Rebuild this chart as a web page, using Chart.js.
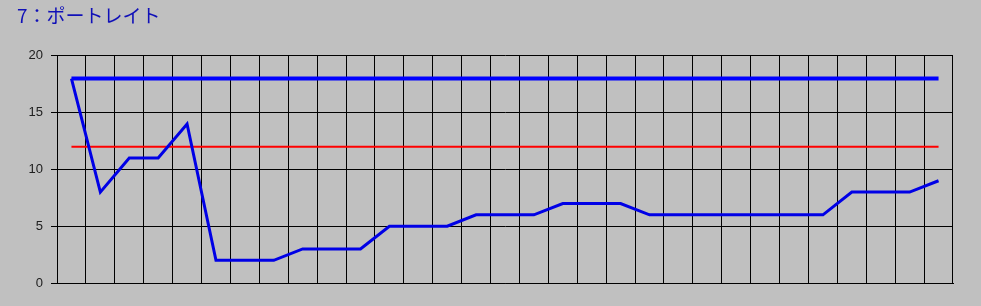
<!DOCTYPE html>
<html lang="ja">
<head>
    <meta charset="UTF-8">
    <script src="https://cdn.jsdelivr.net/npm/chart.js"></script>
    <title>7：ポートレイト</title>
    <style>
        html, body { margin: 0; padding: 0; background: #c0c0c0; }
        canvas { display: block; }
    </style>
</head>
<body>
<canvas id="myChart" width="981" height="306"></canvas>

<script>
    // Chart data
    const titleText = '7：ポートレイト';
    const days = ['1', '2', '3', '4', '5', '6', '7', '8', '9', '10', '11', '12', '13', '14', '15', '16',
                  '17', '18', '19', '20', '21', '22', '23', '24', '25', '26', '27', '28', '29', '30', '31'];
    const upperValues = [18, 18, 18, 18, 18, 18, 18, 18, 18, 18, 18, 18, 18, 18, 18, 18,
                         18, 18, 18, 18, 18, 18, 18, 18, 18, 18, 18, 18, 18, 18, 18];
    const scoreValues = [18, 8, 11, 11, 14, 2, 2, 2, 3, 3, 3, 5, 5, 5, 6, 6,
                         6, 7, 7, 7, 6, 6, 6, 6, 6, 6, 6, 8, 8, 8, 9];
    const refValues = [12, 12, 12, 12, 12, 12, 12, 12, 12, 12, 12, 12, 12, 12, 12, 12,
                       12, 12, 12, 12, 12, 12, 12, 12, 12, 12, 12, 12, 12, 12, 12];
    const yTicks = [0, 5, 10, 15, 20];

    const ctx = document.getElementById('myChart').getContext('2d');
    const chart = new Chart(ctx, {
        type: 'line',
        data: {
            labels: days,
            datasets: [
                {
                    label: 'upper',
                    data: upperValues,
                    borderColor: '#0000ff',
                    borderWidth: 4,
                    pointRadius: 0,
                    tension: 0,
                },
                {
                    label: 'score',
                    data: scoreValues,
                    borderColor: '#0000e6',
                    borderWidth: 3,
                    pointRadius: 0,
                    tension: 0,
                },
                {
                    label: 'ref',
                    data: refValues,
                    borderColor: '#ff0000',
                    borderWidth: 2,
                    pointRadius: 0,
                    tension: 0,
                },
            ],
        },
        options: {
            responsive: false,
            animation: false,
            layout: {
                padding: { left: 17, right: 28, top: 0, bottom: 23 }
            },
            plugins: {
                legend: { display: false },
                tooltip: { enabled: false },
                title: {
                    display: true,
                    text: titleText,
                    align: 'start',
                    color: '#1010b8',
                    font: { family: "'Noto Sans CJK JP', 'Noto Sans', sans-serif", size: 19, weight: 'normal', lineHeight: 1.2 },
                    padding: { top: 4, bottom: 29 }
                }
            },
            scales: {
                x: {
                    offset: true,
                    grid: { color: '#000000', lineWidth: 1, offset: true, drawTicks: false },
                    border: { color: '#000000', width: 1 },
                    ticks: { display: false }
                },
                y: {
                    min: 0,
                    max: 20,
                    afterFit: (scale) => { scale.width = 40; },
                    afterBuildTicks: (scale) => { scale.ticks = yTicks.map(v => ({ value: v })); },
                    grid: { color: '#000000', lineWidth: 1, tickLength: 6 },
                    border: { color: '#000000', width: 1 },
                    ticks: {
                        padding: 8,
                        color: '#202020',
                        font: { family: "'Liberation Sans', Arial, sans-serif", size: 13 }
                    }
                }
            }
        }
    });
</script>
</body>
</html>
